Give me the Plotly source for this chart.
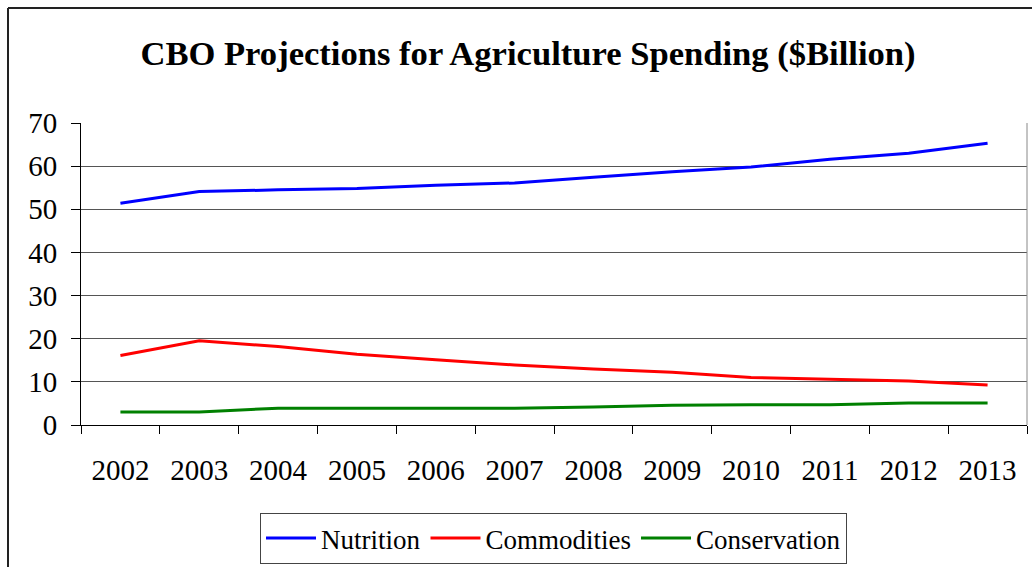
import plotly.graph_objects as go

years = ["2002", "2003", "2004", "2005", "2006", "2007", "2008", "2009", "2010", "2011", "2012", "2013"]
nutrition = [51.4, 54.1, 54.5, 54.8, 55.6, 56.1, 57.4, 58.7, 59.8, 61.6, 63.0, 65.3]
commodities = [16.1, 19.5, 18.2, 16.4, 15.1, 13.9, 13.0, 12.2, 11.0, 10.6, 10.2, 9.3]
conservation = [3.0, 3.0, 3.9, 3.9, 3.9, 3.9, 4.2, 4.6, 4.7, 4.7, 5.1, 5.1]

W, H = 1032, 567
L, R, T, B = 81, 5, 123, 142
pw, ph = W - L - R, H - T - B

def px(x):
    return (x - L) / pw

def py(y):
    return (H - B - y) / ph

FONT = "Liberation Serif"

fig = go.Figure()
fig.add_trace(go.Scatter(x=years, y=nutrition, name="Nutrition", mode="lines",
                         line=dict(color="#0000FF", width=3)))
fig.add_trace(go.Scatter(x=years, y=commodities, name="Commodities", mode="lines",
                         line=dict(color="#FF0000", width=3)))
fig.add_trace(go.Scatter(x=years, y=conservation, name="Conservation", mode="lines",
                         line=dict(color="#008000", width=3)))

fig.update_layout(
    width=W, height=H,
    margin=dict(l=L, r=R, t=T, b=B, autoexpand=False),
    paper_bgcolor="white", plot_bgcolor="white",
    font=dict(family=FONT, color="black", size=29),
    title=dict(text="<b>CBO Projections for Agriculture Spending ($Billion)</b>",
               x=528 / W, xanchor="center", xref="container",
               y=1 - 53 / H, yanchor="middle", yref="container",
               font=dict(family=FONT, size=34.6, color="black")),
    xaxis=dict(type="category", range=[-0.5, len(years) - 0.5], autorange=False,
               tickson="boundaries", ticks="outside", ticklen=8,
               tickcolor="black", tickwidth=1, showline=True, linecolor="black",
               linewidth=1, showgrid=False,
               tickfont=dict(family=FONT, size=29, color="black"),
               ticklabelstandoff=19, automargin=False),
    yaxis=dict(range=[0, 70], dtick=10, ticks="outside", ticklen=9,
               tickcolor="black", tickwidth=1, showline=True, linecolor="black",
               linewidth=1, showgrid=True, gridcolor="#555555", gridwidth=1,
               zeroline=False, tickfont=dict(family=FONT, size=29, color="black"),
               ticklabelstandoff=8, automargin=False),
    legend=dict(orientation="h", x=px(553.5), xanchor="center", y=py(513), yanchor="top",
                bordercolor="#444444", borderwidth=1, itemwidth=50,
                font=dict(family=FONT, size=27, color="black"),
                bgcolor="white"),
    showlegend=True,
)

# plot area right border (gray)
fig.add_shape(type="line", xref="paper", yref="paper", x0=1, x1=1, y0=0, y1=1,
              line=dict(color="#888888", width=1))
# outer chart border (cropped on right and bottom)
fig.add_shape(type="line", xref="paper", yref="paper", x0=px(8), x1=px(8),
              y0=py(8), y1=py(600), line=dict(color="#222222", width=2))
fig.add_shape(type="line", xref="paper", yref="paper", x0=px(8), x1=px(1100),
              y0=py(8), y1=py(8), line=dict(color="#222222", width=2))

fig.write_html("out.html")
